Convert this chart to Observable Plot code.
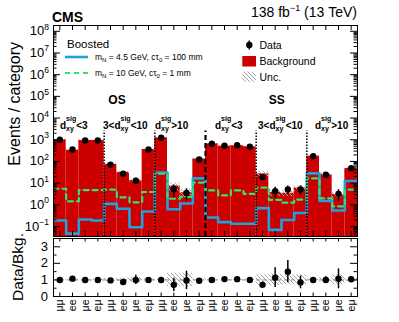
<!DOCTYPE html>
<html>
<head>
<meta charset="utf-8">
<script src="https://cdn.jsdelivr.net/npm/d3@7"></script>
<script src="https://cdn.jsdelivr.net/npm/@observablehq/plot@0.6"></script>
<style>
html,body{margin:0;padding:0;background:#fff;}
#wrap{position:relative;width:399px;height:322px;overflow:hidden;font-family:"Liberation Sans",Arial,Helvetica,sans-serif;}
#wrap svg{position:absolute;left:0;overflow:visible;}
</style>
</head>
<body>
<div id="wrap"></div>
<script>
// ---------------- data ----------------
const channels = ["μμ","ee","μe","eμ","μμ","ee","μe","eμ","μμ","ee","μe","eμ",
                  "μμ","ee","μe","eμ","μμ","ee","μe","eμ","μμ","ee","μe","eμ"];
const observed    = [1000, 355, 930, 930, 71, 27, 13, 355, 1240, 5.2, 3.5, 124,
                     655, 530, 560, 476, 19, 4.2, 5.1, 5.1, 175, 24.5, 3.2, 49];
const observedErr = [32, 19, 30, 30, 8.5, 5.2, 3.6, 19, 35, 3.0, 2.0, 11,
                     26, 23, 24, 22, 4.4, 2.2, 2.3, 2.3, 13, 5, 1.8, 7];
const background  = [1000, 330, 930, 930, 73, 31, 13, 355, 1240, 7.4, 3.6, 130,
                     655, 505, 535, 476, 27, 3.7, 3.4, 6.0, 175, 24.5, 3.0, 47];
const backgroundRelUnc = [0.03, 0.04, 0.03, 0.03, 0.08, 0.1, 0.15, 0.04, 0.03, 0.4, 0.4, 0.06,
                          0.03, 0.03, 0.03, 0.03, 0.3, 0.35, 0.3, 0.3, 0.05, 0.12, 0.3, 0.1];
// m_N = 4.5 GeV, c tau0 = 100 mm
const signalA = [0.19, 0.047, 0.21, 0.19, 1.1, 0.66, 0.093, 0.49, 31, 0.62, 1.15, 16.5,
                 0.26, 0.16, 0.135, 0.135, 0.7, 0.07, 0.2, 0.42, 28, 1.5, 0.55, 12.5];
// m_N = 10 GeV, c tau0 = 1 mm
const signalB = [5.5, 1.45, 4.8, 4.8, 5, 2.2, 1.3, 3.9, 27, 1.9, 2.3, 10.5,
                 4.6, 2.7, 4.6, 3.2, 6.2, 1.7, 1.25, 1.75, 16.5, 2.0, 0.85, 5];
const regionEdges = [4, 8, 12, 16, 20];
const signEdge = 12;
const yExponents = [-1, 0, 1, 2, 3, 4, 5, 6, 7, 8];
const ratioTicks = [0, 1, 2, 3];
const ratioMinor = [0.5, 1.5, 2.5, 3.5];

// ---------------- layout / style ----------------
const RED = "#cc0000", BLUE = "#1ca3dd", GREEN = "#33e077";
const FONT = '"Liberation Sans", Arial, Helvetica, sans-serif';
const NB = "\u00a0";
const W = 399, ML = 53, MR = 42;
const HMAIN = 240, MT = 25, MB = 4;
const RTOP = 238, RH = 84, RMB = 26;
const innerW = W - ML - MR, innerH = HMAIN - MT - MB, rInnerH = RH - RMB;
const yMin = 0.0346, yMax = 1.85e8;
const nb = channels.length;

const bins = channels.map((ch, i) => ({
  i, ch, obs: observed[i], err: observedErr[i], bkg: background[i], unc: backgroundRelUnc[i],
  ratio: observed[i] / background[i], rerr: observedErr[i] / background[i]
}));
const step = arr => [...arr.map((v, i) => ({x: i, y: v})), {x: arr.length, y: arr[arr.length - 1]}];
const centers = bins.map(d => d.i + 0.5);
const majorY = yExponents.map(e => 10 ** e);
const minorY = [];
for (let e = -2; e <= 8; e++) for (let m = 2; m <= 9; m++) { const v = m * 10 ** e; if (v > yMin && v < yMax) minorY.push(v); }

const wrap = document.getElementById("wrap");

const main = Plot.plot({
  width: W, height: HMAIN, marginLeft: ML, marginRight: MR, marginTop: MT, marginBottom: MB,
  style: {fontFamily: FONT, background: "transparent"},
  x: {domain: [0, nb], axis: null},
  y: {type: "log", domain: [yMin, yMax], axis: null},
  marks: [
    Plot.rect(bins, {x1: "i", x2: d => d.i + 1, y1: yMin, y2: "bkg", fill: RED, clip: true}),
    Plot.rect(bins, {x1: "i", x2: d => d.i + 1, y1: d => d.bkg * (1 - d.unc), y2: d => d.bkg * (1 + d.unc), fill: "url(#hatch)", clip: true}),
    Plot.line(step(signalA), {x: "x", y: "y", curve: "step-after", stroke: BLUE, strokeWidth: 2.6, clip: true}),
    Plot.line(step(signalB), {x: "x", y: "y", curve: "step-after", stroke: GREEN, strokeWidth: 2.2, strokeDasharray: "5,4", clip: true}),
    Plot.ruleX(regionEdges.filter(e => e !== signEdge), {x: d => d, y1: yMin, y2: 2500, stroke: "black", strokeWidth: 1.5, strokeDasharray: "1.5,1.5"}),
    Plot.ruleX([signEdge], {x: d => d, y1: yMin, y2: 2500, stroke: "black", strokeWidth: 2.2, strokeDasharray: "5,3"}),
    Plot.ruleX(bins, {x: d => d.i + 0.5, y1: d => d.obs - d.err, y2: d => d.obs + d.err, stroke: "black", strokeWidth: 1.5}),
    Plot.dot(bins, {x: d => d.i + 0.5, y: "obs", r: 3.2, fill: "black", stroke: "none"}),
    Plot.tickY(majorY, {y: d => d, insetRight: innerW - 7, stroke: "black"}),
    Plot.tickY(majorY, {y: d => d, insetLeft: innerW - 7, stroke: "black"}),
    Plot.tickY(minorY, {y: d => d, insetRight: innerW - 3.5, stroke: "black"}),
    Plot.tickY(minorY, {y: d => d, insetLeft: innerW - 3.5, stroke: "black"}),
    Plot.tickX(centers, {x: d => d, insetTop: innerH - 5, stroke: "black"}),
    Plot.tickX(centers, {x: d => d, insetBottom: innerH - 5, stroke: "black"}),
    Plot.frame({stroke: "black", strokeWidth: 1})
  ]
});
main.style.top = "0px";
wrap.appendChild(main);

const ratio = Plot.plot({
  width: W, height: RH, marginLeft: ML, marginRight: MR, marginTop: 0, marginBottom: RMB,
  style: {fontFamily: FONT, background: "transparent", fontSize: "10.5px"},
  x: {domain: [0, nb]},
  y: {domain: [0, 3.5], axis: null},
  marks: [
    Plot.rect(bins, {x1: "i", x2: d => d.i + 1, y1: d => 1 - d.unc, y2: d => 1 + d.unc, fill: "url(#hatch2)", clip: true}),
    Plot.ruleY([1], {stroke: "#888", strokeWidth: 1, strokeDasharray: "4,3"}),
    Plot.ruleX(bins, {x: d => d.i + 0.5, y1: d => Math.max(0, d.ratio - d.rerr), y2: d => d.ratio + d.rerr, stroke: "black", strokeWidth: 1.5}),
    Plot.dot(bins, {x: d => d.i + 0.5, y: "ratio", r: 3.2, fill: "black", stroke: "none"}),
    Plot.tickY(ratioTicks, {y: d => d, insetRight: innerW - 7, stroke: "black"}),
    Plot.tickY(ratioTicks, {y: d => d, insetLeft: innerW - 7, stroke: "black"}),
    Plot.tickY(ratioMinor, {y: d => d, insetRight: innerW - 3.5, stroke: "black"}),
    Plot.tickY(ratioMinor, {y: d => d, insetLeft: innerW - 3.5, stroke: "black"}),
    Plot.tickX(centers, {x: d => d, insetTop: rInnerH - 3.5, stroke: "black"}),
    Plot.tickX(centers, {x: d => d, insetBottom: rInnerH - 3.5, stroke: "black"}),
    Plot.axisX({ticks: centers, tickFormat: d => channels[Math.floor(d)], tickRotate: -90, tickSize: 0, tickPadding: 3, label: null}),
    Plot.frame({stroke: "black", strokeWidth: 1})
  ]
});
ratio.style.top = RTOP + "px";
wrap.appendChild(ratio);

// ---------------- overlay text ----------------
const ov = d3.select(wrap).append("svg")
  .attr("width", W).attr("height", 322)
  .style("top", "0px").style("pointer-events", "none")
  .style("font-family", FONT);

const defs = ov.append("defs");
function hatch(id, color) {
  const p = defs.append("pattern").attr("id", id).attr("patternUnits", "userSpaceOnUse").attr("width", 4).attr("height", 4);
  p.append("path").attr("d", "M-1,-1L5,5M-1,3L1,5M3,-1L5,1").attr("stroke", color).attr("stroke-width", 1);
}
hatch("hatch", "#b0b0b0");
hatch("hatch2", "#a0a0a0");

function rich(x, y, parts, {anchor = "start", size = 12, weight = "normal", rotate = 0} = {}) {
  const g = ov.append("g");
  let cx = 0;
  for (const p of parts) {
    const items = p.stack || [p];
    let w = 0;
    for (const it of items) {
      const t = g.append("text").attr("x", cx).attr("y", it.dy || 0)
        .attr("font-size", it.size || size).attr("font-weight", it.weight || weight)
        .text(it.t.replace(/ /g, NB));
      w = Math.max(w, t.node().getComputedTextLength());
    }
    cx += w;
  }
  const off = anchor === "middle" ? -cx / 2 : anchor === "end" ? -cx : 0;
  g.attr("transform", `translate(${x},${y}) rotate(${rotate}) translate(${off},0)`);
  return g;
}

const sy = main.scale("y"), rsy = ratio.scale("y");
for (const e of yExponents) {
  const y = sy.apply(10 ** e);
  rich(49, y + 4.5, [{t: "10"}, {t: e < 0 ? "\u2212" + (-e) : String(e), size: 8.5, dy: -5.5}], {anchor: "end", size: 13});
}
for (const v of ratioTicks) {
  rich(48, RTOP + rsy.apply(v) + 4.5, [{t: String(v)}], {anchor: "end", size: 13});
}

rich(52, 22, [{t: "CMS"}], {size: 14, weight: "bold"});
rich(357, 16.5, [{t: "138 fb"}, {t: "\u22121", size: 9, dy: -5.5}, {t: " (13 TeV)"}], {anchor: "end", size: 14});
rich(19.5, 42, [{t: "Events / category"}], {anchor: "end", size: 16, rotate: -90});
rich(22.5, 267, [{t: "Data/Bkg."}], {anchor: "middle", size: 15.5, rotate: -90});

// legend
rich(67, 47.5, [{t: "Boosted"}], {size: 11.5});
ov.append("line").attr("x1", 65).attr("x2", 88).attr("y1", 57).attr("y2", 57).attr("stroke", BLUE).attr("stroke-width", 2.6);
rich(95, 60, [{t: "m"}, {t: "N", size: 6, dy: 2}, {t: " = 4.5 GeV, c\u03c4"}, {t: "0", size: 6, dy: 2}, {t: " = 100 mm"}], {size: 8.5});
ov.append("line").attr("x1", 65).attr("x2", 88).attr("y1", 73).attr("y2", 73).attr("stroke", GREEN).attr("stroke-width", 2.2).attr("stroke-dasharray", "5,4");
rich(95, 76, [{t: "m"}, {t: "N", size: 6, dy: 2}, {t: " = 10 GeV, c\u03c4"}, {t: "0", size: 6, dy: 2}, {t: " = 1 mm"}], {size: 8.5});

ov.append("line").attr("x1", 249.3).attr("x2", 249.3).attr("y1", 40.5).attr("y2", 49.5).attr("stroke", "black").attr("stroke-width", 1.5);
ov.append("circle").attr("cx", 249.3).attr("cy", 45).attr("r", 3.2).attr("fill", "black");
rich(259.5, 49.3, [{t: "Data"}], {size: 10.5});
ov.append("rect").attr("x", 242.3).attr("y", 56).attr("width", 13.7).attr("height", 10.5).attr("fill", RED);
rich(259.5, 64.8, [{t: "Background"}], {size: 10.5});
ov.append("rect").attr("x", 242.3).attr("y", 71.7).attr("width", 13.7).attr("height", 10).attr("fill", "url(#hatch2)");
rich(259.5, 80.5, [{t: "Unc."}], {size: 10.5});

// sign labels
rich(117, 104, [{t: "OS"}], {anchor: "middle", size: 12, weight: "bold"});
rich(276.7, 104, [{t: "SS"}], {anchor: "middle", size: 12, weight: "bold"});

// region labels
const dsig = [{t: "d"}, {stack: [{t: "sig", size: 7, dy: -8}, {t: "xy", size: 7, dy: 2.5}]}];
const regionText = [
  [60, [...dsig, {t: "<3"}]],
  [103, [{t: "3<"}, ...dsig, {t: "<10"}]],
  [155, [...dsig, {t: ">10"}]],
  [215, [...dsig, {t: "<3"}]],
  [258, [{t: "3<"}, ...dsig, {t: "<10"}]],
  [315, [...dsig, {t: ">10"}]]
];
for (const [x, parts] of regionText) rich(x, 128.5, parts, {size: 10, weight: "bold"});
</script>
</body>
</html>
